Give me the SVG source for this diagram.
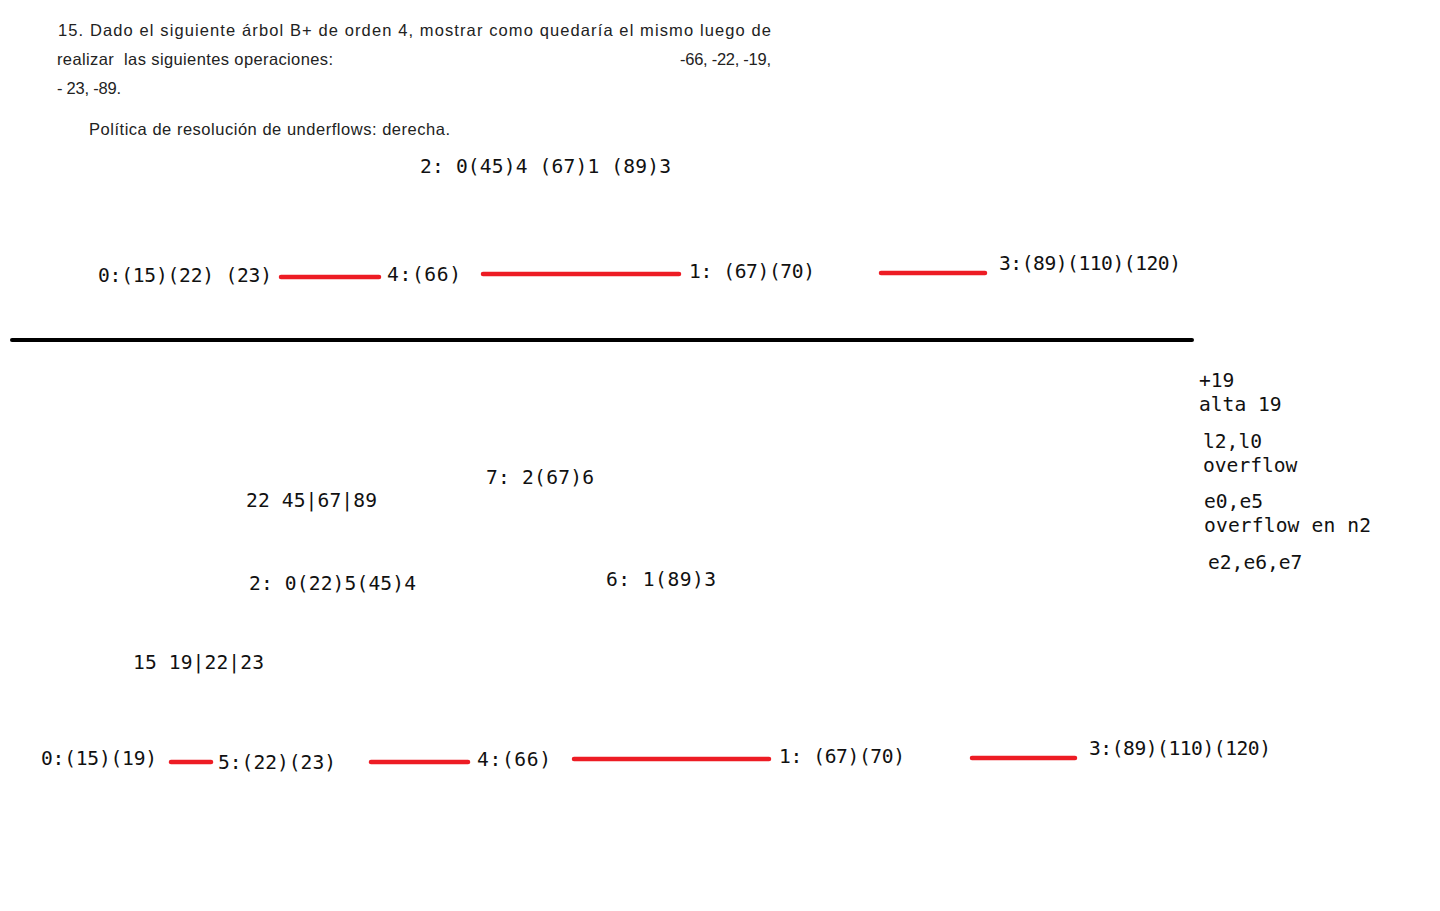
<svg xmlns="http://www.w3.org/2000/svg" width="1440" height="911" viewBox="0 0 1440 911">
<style>
.h{font-family:"Century Gothic","URW Gothic","Liberation Sans",sans-serif;font-size:16.5px;fill:#222}
.m{font-family:"DejaVu Sans Mono","Liberation Mono",monospace;font-size:19.6px;fill:#111}
.r{stroke:#ed1c24;stroke-width:4.5;stroke-linecap:round;fill:none}
.sep{stroke:#000;stroke-width:4;stroke-linecap:round}
</style>
<rect width="1440" height="911" fill="#fff"/>
<g id="header">
<text class="h" x="58" y="36" textLength="713" lengthAdjust="spacing">15. Dado el siguiente árbol B+ de orden 4, mostrar como quedaría el mismo luego de</text>
<text class="h" x="57" y="65" xml:space="preserve" textLength="276" lengthAdjust="spacing">realizar  las siguientes operaciones:</text>
<text class="h" x="680" y="65" textLength="91" lengthAdjust="spacing">-66, -22, -19,</text>
<text class="h" x="57" y="94" textLength="64" lengthAdjust="spacing">- 23, -89.</text>
<text class="h" x="89" y="135" textLength="361" lengthAdjust="spacing">Política de resolución de underflows: derecha.</text>
</g>
<g id="top-n2"><text class="m" x="420" y="173" textLength="251">2: 0(45)4 (67)1 (89)3</text></g>
<g id="top-n0"><text class="m" x="98" y="282" textLength="174">0:(15)(22) (23)</text></g>
<g id="top-n4"><text class="m" x="387" y="281" textLength="74">4:(66)</text></g>
<g id="top-n1"><text class="m" x="689" y="278" textLength="126">1: (67)(70)</text></g>
<g id="top-n3"><text class="m" x="999" y="270" textLength="182">3:(89)(110)(120)</text></g>
<line class="sep" x1="12" y1="340" x2="1192" y2="340"/>
<g id="notes">
<text class="m" x="1199" y="387">+19</text>
<text class="m" x="1199" y="411">alta 19</text>
<text class="m" x="1203" y="448">l2,l0</text>
<text class="m" x="1203" y="472">overflow</text>
<text class="m" x="1204" y="508">e0,e5</text>
<text class="m" x="1204" y="532" textLength="167">overflow en n2</text>
<text class="m" x="1208" y="569">e2,e6,e7</text>
</g>
<g id="n7"><text class="m" x="486" y="484" textLength="108">7: 2(67)6</text></g>
<g id="split-2"><text class="m" x="246" y="507" textLength="131">22 45|67|89</text></g>
<g id="n2"><text class="m" x="249" y="590" textLength="167">2: 0(22)5(45)4</text></g>
<g id="n6"><text class="m" x="606" y="586" textLength="110">6: 1(89)3</text></g>
<g id="split-0"><text class="m" x="133" y="669" textLength="131">15 19|22|23</text></g>
<g id="n0"><text class="m" x="41" y="765" textLength="116">0:(15)(19)</text></g>
<g id="n5"><text class="m" x="218" y="769" textLength="118">5:(22)(23)</text></g>
<g id="n4"><text class="m" x="477" y="766" textLength="74">4:(66)</text></g>
<g id="n1"><text class="m" x="779" y="763" textLength="126">1: (67)(70)</text></g>
<g id="n3"><text class="m" x="1089" y="755" textLength="182">3:(89)(110)(120)</text></g>
<g id="connectors">
<line class="r" x1="281" y1="277" x2="379" y2="277"/>
<line class="r" x1="483" y1="274" x2="679" y2="274"/>
<line class="r" x1="881" y1="273" x2="985" y2="273"/>
<line class="r" x1="171" y1="762" x2="211" y2="762"/>
<line class="r" x1="371" y1="762" x2="468" y2="762"/>
<line class="r" x1="574" y1="759" x2="769" y2="759"/>
<line class="r" x1="972" y1="758" x2="1075" y2="758"/>
</g>
</svg>
